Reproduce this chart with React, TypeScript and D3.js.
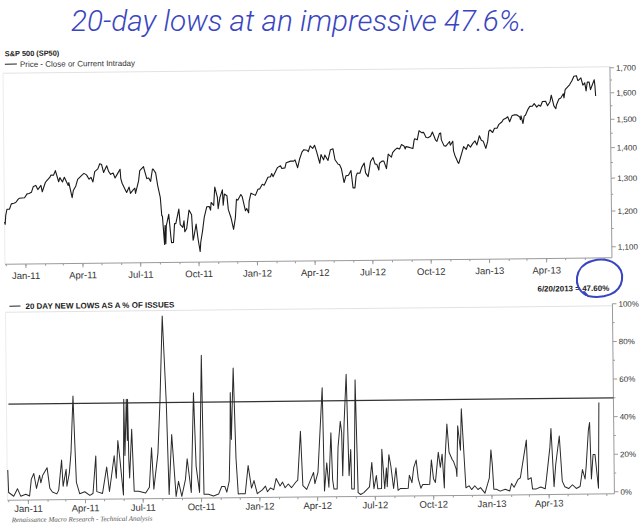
import React from "react";
import * as d3 from "d3";

// S&P 500 close (log scale)
const spxCloses: [string, number][] = [
  ["2010-11-29", 1187], ["2010-11-30", 1180], ["2010-12-01", 1206], ["2010-12-03", 1224], ["2010-12-07", 1224],
  ["2010-12-10", 1240], ["2010-12-14", 1242], ["2010-12-17", 1244], ["2010-12-21", 1254], ["2010-12-23", 1257],
  ["2010-12-31", 1258], ["2011-01-04", 1270], ["2011-01-07", 1271], ["2011-01-11", 1275], ["2011-01-14", 1293],
  ["2011-01-18", 1296], ["2011-01-21", 1283], ["2011-01-26", 1296], ["2011-01-28", 1276], ["2011-02-02", 1305],
  ["2011-02-04", 1310], ["2011-02-09", 1321], ["2011-02-11", 1329], ["2011-02-15", 1328], ["2011-02-18", 1343],
  ["2011-02-23", 1307], ["2011-02-25", 1320], ["2011-03-01", 1306], ["2011-03-04", 1321], ["2011-03-10", 1295],
  ["2011-03-11", 1304], ["2011-03-16", 1257], ["2011-03-18", 1279], ["2011-03-22", 1293], ["2011-03-25", 1314],
  ["2011-03-31", 1326], ["2011-04-04", 1333], ["2011-04-08", 1328], ["2011-04-12", 1314], ["2011-04-15", 1320],
  ["2011-04-18", 1305], ["2011-04-21", 1338], ["2011-04-26", 1347], ["2011-04-29", 1364], ["2011-05-02", 1361],
  ["2011-05-05", 1335], ["2011-05-06", 1340], ["2011-05-10", 1357], ["2011-05-13", 1338], ["2011-05-16", 1329],
  ["2011-05-20", 1333], ["2011-05-23", 1317], ["2011-05-27", 1331], ["2011-05-31", 1345], ["2011-06-01", 1315],
  ["2011-06-03", 1300], ["2011-06-08", 1279], ["2011-06-10", 1271], ["2011-06-14", 1288], ["2011-06-16", 1268],
  ["2011-06-20", 1278], ["2011-06-23", 1284], ["2011-06-24", 1268], ["2011-06-29", 1307], ["2011-07-01", 1340],
  ["2011-07-07", 1353], ["2011-07-08", 1344], ["2011-07-12", 1314], ["2011-07-15", 1316], ["2011-07-18", 1305],
  ["2011-07-21", 1344], ["2011-07-22", 1345], ["2011-07-26", 1332], ["2011-07-29", 1292], ["2011-08-02", 1254],
  ["2011-08-04", 1200], ["2011-08-05", 1199], ["2011-08-08", 1119], ["2011-08-09", 1172], ["2011-08-10", 1121],
  ["2011-08-11", 1172], ["2011-08-12", 1179], ["2011-08-15", 1204], ["2011-08-18", 1140], ["2011-08-19", 1124],
  ["2011-08-22", 1124], ["2011-08-24", 1177], ["2011-08-26", 1177], ["2011-08-31", 1219], ["2011-09-02", 1174],
  ["2011-09-06", 1166], ["2011-09-08", 1185], ["2011-09-09", 1154], ["2011-09-12", 1162], ["2011-09-16", 1216],
  ["2011-09-20", 1202], ["2011-09-22", 1130], ["2011-09-23", 1136], ["2011-09-27", 1175], ["2011-09-30", 1131],
  ["2011-10-03", 1099], ["2011-10-04", 1124], ["2011-10-07", 1155], ["2011-10-10", 1195], ["2011-10-14", 1225],
  ["2011-10-18", 1226], ["2011-10-20", 1215], ["2011-10-21", 1238], ["2011-10-25", 1229], ["2011-10-27", 1285],
  ["2011-10-31", 1253], ["2011-11-01", 1219], ["2011-11-04", 1253], ["2011-11-08", 1276], ["2011-11-09", 1229],
  ["2011-11-11", 1263], ["2011-11-15", 1258], ["2011-11-17", 1216], ["2011-11-21", 1193], ["2011-11-25", 1159],
  ["2011-11-28", 1192], ["2011-11-30", 1247], ["2011-12-02", 1244], ["2011-12-07", 1261], ["2011-12-09", 1255],
  ["2011-12-14", 1212], ["2011-12-16", 1219], ["2011-12-19", 1206], ["2011-12-20", 1241], ["2011-12-23", 1265],
  ["2011-12-30", 1258], ["2012-01-03", 1277], ["2012-01-06", 1278], ["2012-01-10", 1292], ["2012-01-13", 1289],
  ["2012-01-19", 1314], ["2012-01-23", 1316], ["2012-01-25", 1326], ["2012-01-27", 1316], ["2012-02-03", 1345],
  ["2012-02-08", 1351], ["2012-02-10", 1342], ["2012-02-15", 1344], ["2012-02-17", 1361], ["2012-02-24", 1366],
  ["2012-02-29", 1366], ["2012-03-02", 1370], ["2012-03-06", 1344], ["2012-03-09", 1371], ["2012-03-13", 1396],
  ["2012-03-16", 1404], ["2012-03-21", 1402], ["2012-03-23", 1397], ["2012-03-26", 1417], ["2012-03-30", 1408],
  ["2012-04-02", 1419], ["2012-04-05", 1398], ["2012-04-10", 1358], ["2012-04-12", 1387], ["2012-04-16", 1369],
  ["2012-04-18", 1385], ["2012-04-23", 1367], ["2012-04-27", 1403], ["2012-05-01", 1406], ["2012-05-04", 1369],
  ["2012-05-09", 1354], ["2012-05-11", 1353], ["2012-05-14", 1339], ["2012-05-18", 1295], ["2012-05-21", 1316],
  ["2012-05-25", 1318], ["2012-05-29", 1333], ["2012-06-01", 1278], ["2012-06-04", 1278], ["2012-06-06", 1315],
  ["2012-06-08", 1325], ["2012-06-12", 1324], ["2012-06-15", 1343], ["2012-06-19", 1357], ["2012-06-21", 1325],
  ["2012-06-25", 1313], ["2012-06-29", 1362], ["2012-07-03", 1375], ["2012-07-06", 1354], ["2012-07-09", 1352],
  ["2012-07-12", 1334], ["2012-07-13", 1356], ["2012-07-17", 1363], ["2012-07-20", 1363], ["2012-07-24", 1338],
  ["2012-07-27", 1386], ["2012-08-01", 1376], ["2012-08-03", 1391], ["2012-08-07", 1401], ["2012-08-10", 1406],
  ["2012-08-14", 1403], ["2012-08-17", 1418], ["2012-08-21", 1413], ["2012-08-23", 1403], ["2012-08-24", 1411],
  ["2012-08-28", 1409], ["2012-08-31", 1407], ["2012-09-04", 1404], ["2012-09-06", 1432], ["2012-09-07", 1438],
  ["2012-09-11", 1434], ["2012-09-14", 1466], ["2012-09-18", 1459], ["2012-09-21", 1460], ["2012-09-25", 1442],
  ["2012-09-28", 1441], ["2012-10-02", 1446], ["2012-10-05", 1461], ["2012-10-10", 1432], ["2012-10-12", 1428],
  ["2012-10-16", 1455], ["2012-10-18", 1457], ["2012-10-19", 1433], ["2012-10-23", 1413], ["2012-10-26", 1411],
  ["2012-11-01", 1427], ["2012-11-02", 1414], ["2012-11-06", 1428], ["2012-11-07", 1395], ["2012-11-09", 1380],
  ["2012-11-14", 1355], ["2012-11-15", 1353], ["2012-11-16", 1359], ["2012-11-20", 1387], ["2012-11-23", 1409],
  ["2012-11-27", 1399], ["2012-11-30", 1416], ["2012-12-04", 1407], ["2012-12-07", 1418], ["2012-12-11", 1428],
  ["2012-12-14", 1414], ["2012-12-18", 1446], ["2012-12-21", 1430], ["2012-12-24", 1427], ["2012-12-28", 1402],
  ["2012-12-31", 1426], ["2013-01-02", 1462], ["2013-01-04", 1466], ["2013-01-08", 1457], ["2013-01-11", 1472],
  ["2013-01-15", 1472], ["2013-01-18", 1486], ["2013-01-23", 1495], ["2013-01-25", 1503], ["2013-01-29", 1508],
  ["2013-02-01", 1513], ["2013-02-04", 1495], ["2013-02-08", 1518], ["2013-02-12", 1520], ["2013-02-15", 1520],
  ["2013-02-20", 1512], ["2013-02-21", 1502], ["2013-02-22", 1516], ["2013-02-25", 1488], ["2013-02-27", 1515],
  ["2013-03-01", 1518], ["2013-03-05", 1540], ["2013-03-08", 1551], ["2013-03-12", 1552], ["2013-03-15", 1561],
  ["2013-03-19", 1548], ["2013-03-22", 1556], ["2013-03-25", 1551], ["2013-03-28", 1569], ["2013-04-02", 1570],
  ["2013-04-05", 1553], ["2013-04-09", 1568], ["2013-04-11", 1593], ["2013-04-15", 1552], ["2013-04-18", 1541],
  ["2013-04-19", 1555], ["2013-04-23", 1578], ["2013-04-26", 1582], ["2013-04-30", 1598], ["2013-05-01", 1582],
  ["2013-05-03", 1614], ["2013-05-07", 1625], ["2013-05-10", 1633], ["2013-05-14", 1650], ["2013-05-17", 1667],
  ["2013-05-21", 1669], ["2013-05-23", 1650], ["2013-05-24", 1650], ["2013-05-28", 1660], ["2013-05-31", 1631],
  ["2013-06-03", 1640], ["2013-06-05", 1608], ["2013-06-07", 1643], ["2013-06-10", 1643], ["2013-06-11", 1626],
  ["2013-06-12", 1613], ["2013-06-14", 1626], ["2013-06-18", 1652], ["2013-06-19", 1628], ["2013-06-20", 1588],
];

// 20-day new lows as a % of issues
const newLowsPct: [string, number][] = [
  ["2010-11-30", 15], ["2010-12-01", 3], ["2010-12-09", 1], ["2010-12-15", 5], ["2010-12-20", 1],
  ["2010-12-28", 2], ["2011-01-03", 1], ["2011-01-06", 10], ["2011-01-10", 13], ["2011-01-14", 5],
  ["2011-01-19", 12], ["2011-01-21", 8], ["2011-01-24", 12], ["2011-01-31", 16], ["2011-02-04", 5],
  ["2011-02-08", 3], ["2011-02-15", 2], ["2011-02-18", 4], ["2011-02-23", 20], ["2011-02-25", 6],
  ["2011-03-02", 15], ["2011-03-03", 6], ["2011-03-07", 13], ["2011-03-10", 24], ["2011-03-14", 54],
  ["2011-03-16", 30], ["2011-03-18", 8], ["2011-03-23", 2], ["2011-03-31", 3], ["2011-04-08", 1],
  ["2011-04-13", 2], ["2011-04-18", 22], ["2011-04-19", 3], ["2011-04-28", 2], ["2011-05-05", 16],
  ["2011-05-09", 3], ["2011-05-17", 22], ["2011-05-20", 10], ["2011-05-23", 30], ["2011-05-26", 20],
  ["2011-05-31", 1], ["2011-06-02", 52], ["2011-06-03", 22], ["2011-06-06", 52], ["2011-06-07", 30],
  ["2011-06-08", 52], ["2011-06-09", 20], ["2011-06-10", 10], ["2011-06-14", 36], ["2011-06-17", 3],
  ["2011-06-24", 3], ["2011-07-05", 2], ["2011-07-11", 5], ["2011-07-15", 26], ["2011-07-18", 4],
  ["2011-07-25", 23], ["2011-07-29", 50], ["2011-08-03", 96], ["2011-08-08", 50], ["2011-08-11", 1],
  ["2011-08-16", 33], ["2011-08-22", 0], ["2011-08-26", 8], ["2011-08-31", 0], ["2011-09-06", 9],
  ["2011-09-09", 20], ["2011-09-15", 2], ["2011-09-20", 55], ["2011-09-23", 16], ["2011-09-28", 2],
  ["2011-10-03", 75], ["2011-10-05", 1], ["2011-10-12", 1], ["2011-10-20", 0], ["2011-10-28", 1],
  ["2011-11-02", 5], ["2011-11-07", 5], ["2011-11-10", 2], ["2011-11-14", 8], ["2011-11-16", 30],
  ["2011-11-17", 55], ["2011-11-18", 30], ["2011-11-22", 68], ["2011-11-25", 20], ["2011-11-28", 1],
  ["2011-12-01", 1], ["2011-12-09", 1], ["2011-12-14", 16], ["2011-12-19", 4], ["2011-12-23", 8],
  ["2011-12-28", 1], ["2012-01-05", 3], ["2012-01-10", 5], ["2012-01-13", 2], ["2012-01-18", 4],
  ["2012-01-23", 3], ["2012-01-27", 9], ["2012-02-02", 5], ["2012-02-06", 7], ["2012-02-10", 4],
  ["2012-02-15", 6], ["2012-02-20", 4], ["2012-02-27", 7], ["2012-03-01", 8], ["2012-03-06", 34],
  ["2012-03-09", 5], ["2012-03-15", 3], ["2012-03-26", 12], ["2012-03-28", 6], ["2012-04-02", 12],
  ["2012-04-10", 57], ["2012-04-12", 2], ["2012-04-16", 17], ["2012-04-19", 4], ["2012-04-23", 33],
  ["2012-04-25", 8], ["2012-04-27", 3], ["2012-05-02", 3], ["2012-05-04", 25], ["2012-05-08", 39],
  ["2012-05-10", 33], ["2012-05-11", 10], ["2012-05-14", 38], ["2012-05-18", 64], ["2012-05-21", 10],
  ["2012-05-24", 24], ["2012-05-25", 3], ["2012-05-29", 3], ["2012-06-01", 61], ["2012-06-04", 1],
  ["2012-06-08", 0], ["2012-06-13", 1], ["2012-06-22", 4], ["2012-06-26", 17], ["2012-06-29", 3],
  ["2012-07-03", 10], ["2012-07-05", 3], ["2012-07-11", 3], ["2012-07-12", 24], ["2012-07-16", 3],
  ["2012-07-19", 14], ["2012-07-20", 4], ["2012-07-23", 21], ["2012-07-26", 15], ["2012-07-30", 3],
  ["2012-08-03", 14], ["2012-08-06", 2], ["2012-08-10", 3], ["2012-08-17", 3], ["2012-08-22", 3],
  ["2012-08-24", 10], ["2012-08-28", 6], ["2012-08-31", 14], ["2012-09-04", 18], ["2012-09-07", 8],
  ["2012-09-11", 3], ["2012-09-14", 5], ["2012-09-20", 5], ["2012-09-25", 5], ["2012-09-28", 18],
  ["2012-10-01", 8], ["2012-10-04", 6], ["2012-10-09", 22], ["2012-10-12", 14], ["2012-10-15", 21],
  ["2012-10-18", 3], ["2012-10-19", 15], ["2012-10-23", 37], ["2012-10-26", 22], ["2012-10-31", 18],
  ["2012-11-02", 17], ["2012-11-06", 13], ["2012-11-07", 9], ["2012-11-09", 36], ["2012-11-13", 23],
  ["2012-11-15", 45], ["2012-11-21", 3], ["2012-11-26", 4], ["2012-11-30", 2], ["2012-12-05", 4],
  ["2012-12-10", 2], ["2012-12-14", 3], ["2012-12-21", 0], ["2012-12-28", 8], ["2012-12-31", 23],
  ["2013-01-02", 15], ["2013-01-04", 2], ["2013-01-08", 2], ["2013-01-14", 1], ["2013-01-22", 2],
  ["2013-01-29", 1], ["2013-02-01", 5], ["2013-02-05", 3], ["2013-02-11", 7], ["2013-02-15", 8],
  ["2013-02-21", 20], ["2013-02-25", 28], ["2013-02-27", 7], ["2013-03-04", 8], ["2013-03-06", 2],
  ["2013-03-12", 2], ["2013-03-19", 3], ["2013-03-26", 2], ["2013-03-28", 7], ["2013-04-03", 24],
  ["2013-04-05", 34], ["2013-04-09", 3], ["2013-04-12", 15], ["2013-04-18", 30], ["2013-04-22", 6],
  ["2013-04-26", 3], ["2013-05-02", 2], ["2013-05-08", 4], ["2013-05-14", 2], ["2013-05-20", 3],
  ["2013-05-24", 12], ["2013-05-28", 7], ["2013-05-30", 14], ["2013-06-03", 33], ["2013-06-05", 37],
  ["2013-06-07", 7], ["2013-06-10", 20], ["2013-06-13", 20], ["2013-06-18", 2], ["2013-06-20", 47.6],
];

const priceTicks = [1100, 1200, 1300, 1400, 1500, 1600, 1700];
const priceMinorTicks = [1150, 1250, 1350, 1450, 1550, 1650];
const pctTicks = [0, 20, 40, 60, 80, 100];
const pctMinorTicks = [10, 30, 50, 70, 90];
const thresholdPct = [50];
const dateDomain = ["2010-11-29", "2013-07-13"];
const lastLabel = "6/20/2013 = 47.60%";
const handNote = "20-day lows at an impressive 47.6%.";

const parse = d3.timeParse("%Y-%m-%d");
const FONT = "'Liberation Sans', Arial, sans-serif";

export default function App() {
  const L = 5, R = 612;
  const x = d3.scaleTime().domain(dateDomain.map((d) => parse(d) as Date)).range([L, R]);
  const yP = d3.scaleLog().domain([1071, 1704]).range([261, 70]);
  const yL = d3.scaleLinear().domain([0, 100]).range([495, 307]);
  const topAxisY = 261;
  const botAxisY = 497;

  const priceLine = d3
    .line<[string, number]>()
    .x((d) => x(parse(d[0]) as Date))
    .y((d) => yP(d[1]))(spxCloses) as string;
  const lowsLine = d3
    .line<[string, number]>()
    .x((d) => x(parse(d[0]) as Date))
    .y((d) => yL(d[1]))(newLowsPct) as string;

  const months = x.ticks(d3.timeMonth.every(1) as any).filter((d) => x(d) >= L && x(d) <= R);
  const quarters = x.ticks(d3.timeMonth.every(3) as any).filter((d) => x(d) <= 590);
  const fmt = d3.timeFormat("%b-%y");
  const axisCol = "#9a9a9a";
  const textCol = "#333";
  const ink = "#3a46c0";

  const xAxis = (yA: number, labelY: number) => (
    <g>
      <line x1={L} x2={R} y1={yA} y2={yA} stroke={axisCol} strokeWidth={1} />
      {months.map((m, i) => (
        <line key={"m" + i} x1={x(m)} x2={x(m)} y1={yA} y2={yA + 2} stroke={axisCol} />
      ))}
      {quarters.map((q, i) => (
        <g key={"q" + i}>
          <line x1={x(q)} x2={x(q)} y1={yA} y2={yA + 4} stroke={axisCol} />
          <text x={x(q)} y={labelY} textAnchor="middle" fontSize={9.5} fill={textCol} fontFamily={FONT}>
            {fmt(q)}
          </text>
        </g>
      ))}
    </g>
  );

  return (
    <svg width={640} height={527} style={{ position: "absolute", left: 0, top: 0, background: "#fff" }}>
      <rect width={640} height={527} fill="#fff" />
      <g transform="rotate(-0.6 310 265)">
        {/* Top panel */}
        <text x={7} y={53} fontSize={7.4} fontWeight="bold" fill="#222" fontFamily={FONT}>S&amp;P 500 (SP50)</text>
        <line x1={7} x2={19} y1={61} y2={61} stroke="#222" strokeWidth={1} />
        <text x={22} y={64} fontSize={8} fill={textCol} fontFamily={FONT}>Price - Close or Current Intraday</text>
        <line x1={L} x2={R} y1={70} y2={70} stroke="#e2e2e2" />
        <line x1={L} x2={L} y1={70} y2={topAxisY} stroke="#ececec" />
        <line x1={R} x2={R} y1={70} y2={topAxisY} stroke={axisCol} />
        {priceMinorTicks.map((t) => (
          <line key={"pm" + t} x1={R} x2={R + 2} y1={yP(t)} y2={yP(t)} stroke={axisCol} />
        ))}
        {priceTicks.map((t) => (
          <g key={"p" + t}>
            <line x1={R} x2={R + 4} y1={yP(t)} y2={yP(t)} stroke={axisCol} />
            <text x={R + 6} y={yP(t) + 3} fontSize={8} fill={textCol} fontFamily={FONT}>{d3.format(",")(t)}</text>
          </g>
        ))}
        {xAxis(topAxisY, 276)}
        <path d={priceLine} fill="none" stroke="#1a1a1a" strokeWidth={1.1} strokeLinejoin="round" />

        <text x={609} y={294} textAnchor="end" fontSize={8} fontWeight="bold" fill="#222" fontFamily={FONT}>{lastLabel}</text>

        {/* Bottom panel */}
        <line x1={9} x2={20} y1={303} y2={303} stroke="#222" strokeWidth={1} />
        <text x={25} y={306} fontSize={8} fontWeight="bold" fill="#222" fontFamily={FONT}>20 DAY NEW LOWS AS A % OF ISSUES</text>
        <line x1={L} x2={R} y1={309} y2={309} stroke="#e2e2e2" />
        <line x1={L} x2={L} y1={309} y2={botAxisY} stroke="#ececec" />
        <line x1={R} x2={R} y1={307} y2={botAxisY} stroke={axisCol} />
        {pctMinorTicks.map((t) => (
          <line key={"lm" + t} x1={R} x2={R + 2} y1={yL(t)} y2={yL(t)} stroke={axisCol} />
        ))}
        {pctTicks.map((t) => (
          <g key={"l" + t}>
            <line x1={R} x2={R + 4} y1={yL(t)} y2={yL(t)} stroke={axisCol} />
            <text x={R + 6} y={yL(t) + 3} fontSize={8} fill={textCol} fontFamily={FONT}>{t + "%"}</text>
          </g>
        ))}
        {xAxis(botAxisY, 509)}
        {thresholdPct.map((v) => (
          <line key={"th" + v} x1={L + 2} x2={R} y1={yL(v)} y2={yL(v)} stroke="#333" strokeWidth={1.2} />
        ))}
        <path d={lowsLine} fill="none" stroke="#2a2a2a" strokeWidth={1} strokeLinejoin="round" />

        <text x={9} y={519} fontSize={7} fontStyle="italic" fill="#555" fontFamily="'Liberation Serif', serif">
          Renaissance Macro Research - Technical Analysis
        </text>
      </g>

      {/* handwritten annotation */}
      <text x={299} y={31} textAnchor="middle" fontSize={30} fontStyle="italic" fontWeight={300}
        fill={ink} fontFamily="Roboto, 'Open Sans', sans-serif" textLength={456} lengthAdjust="spacingAndGlyphs">
        {handNote}
      </text>
      <path d="M586,295 C572,288 574,266 592,261 C610,256 624,266 622,280 C620,294 604,299 588,296 L584,292"
        fill="none" stroke={ink} strokeWidth={2} strokeLinecap="round" />
    </svg>
  );
}
